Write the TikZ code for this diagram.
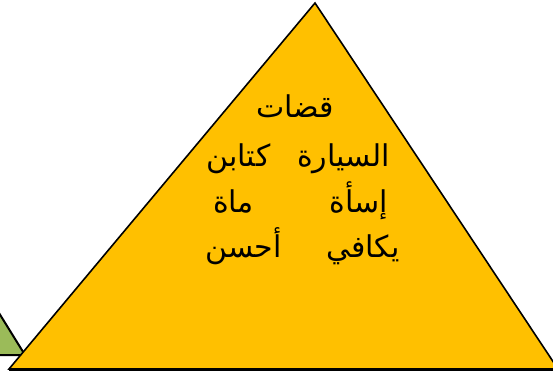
\documentclass[tikz,border=0pt]{standalone}
\usepackage{fontspec}
\newfontfamily\arabicfont[Script=Arabic]{DejaVu Sans}
\TeXXeTstate=1
\definecolor{pyrorange}{HTML}{FFC000}
\definecolor{pyrgreen}{HTML}{9BBB59}
\begin{document}
\begin{tikzpicture}[x=1pt,y=-1pt,
  word/.style={anchor=base,inner sep=0pt,font=\arabicfont\fontsize{30}{34}\selectfont}]
\useasboundingbox (0,0) rectangle (553,371);
\clip (0,0) rectangle (553,371);
\fill[white] (0,0) rectangle (553,371);
% green triangle (partly off picture)
\filldraw[fill=pyrgreen,draw=black,line width=2pt] (-40,250) -- (25,355) -- (-100,355) -- cycle;
% orange triangle
\filldraw[fill=pyrorange,draw=black,line width=1.6pt] (315,3) -- (9,369) -- (558,369) -- cycle;
\draw[black,line width=2.2pt] (9,369.5) -- (560,369.5);
% words
\node[word] (w1) at (295,118) {\beginR قضات\endR};
\node[word] (w2) at (343.5,167) {\beginR السيارة\endR};
\node[word] (w3) at (238.5,167) {\beginR كتابن\endR};
\node[word] (w4) at (359,212) {\beginR إسأة\endR};
\node[word] (w5) at (233.5,212) {\beginR ماة\endR};
\node[word] (w6) at (363,257) {\beginR يكافي\endR};
\node[word] (w7) at (243.5,257) {\beginR أحسن\endR};
\end{tikzpicture}
\end{document}
